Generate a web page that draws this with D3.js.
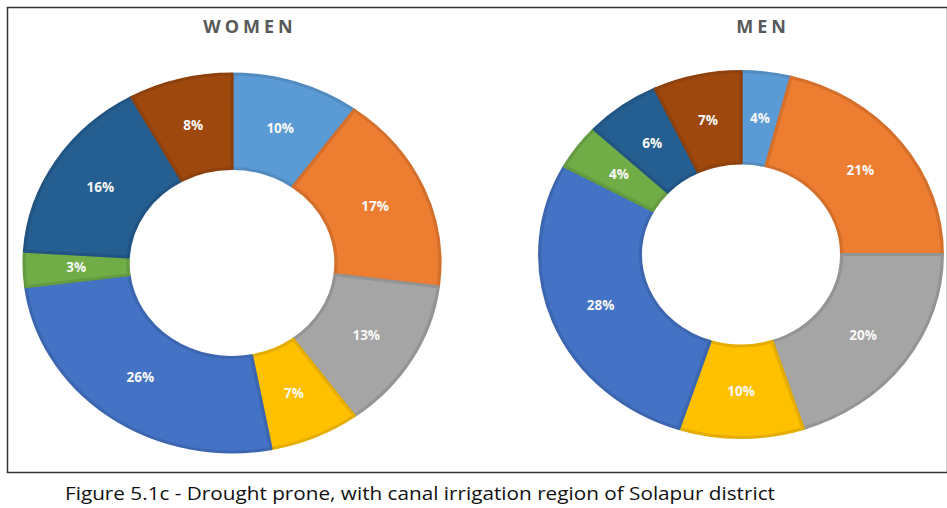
<!DOCTYPE html>
<html>
<head>
<meta charset="utf-8">
<script src="https://cdn.jsdelivr.net/npm/d3@7"></script>
<style>
  body { margin: 0; background: #fff; }
  svg { display: block; }
</style>
</head>
<body>
<div id="chart"></div>
<script>
(function () {
    "use strict";
    // slice order, clockwise from 12 o'clock
    var categories = ["c1", "c2", "c3", "c4", "c5", "c6", "c7", "c8"];
    var colors = ["#5B9BD5", "#ED7D31", "#A5A5A5", "#FFC000", "#4472C4", "#70AD47", "#255E91", "#9E480E"];
    var women = [10, 17, 13, 7, 26, 3, 16, 8];
    var men = [4, 21, 20, 10, 28, 4, 6, 7];
    var titles = ["WOMEN", "MEN"];
    var caption = "Figure 5.1c  - Drought prone, with canal irrigation region of Solapur district";

    var w = 947, h = 508;
    var svg = d3.select('#chart').append('svg').attr('width', w).attr('height', h);

    // frame
    svg.append('rect').attr('x', 7.5).attr('y', 7.5).attr('width', 940).attr('height', 465)
        .attr('fill', 'none').attr('stroke', '#333').attr('stroke-width', 1.5);

    var donuts = [
        {data: women, cx: 232, cy: 263, r: 189, sx: 1.1, title: titles[0], tx: 250},
        {data: men, cx: 741, cy: 254.5, r: 183, sx: 1.1, title: titles[1], tx: 763}
    ];

    var pie = d3.pie().sort(null).value(function (d) { return d; });

    donuts.forEach(function (dn) {
        var inner = dn.r * 0.5;
        var arc = d3.arc().innerRadius(inner).outerRadius(dn.r);
        var mid = d3.arc().innerRadius((inner + dn.r) / 2).outerRadius((inner + dn.r) / 2);
        var arcs = pie(dn.data);

        var g = svg.append('g')
            .attr('transform', 'translate(' + dn.cx + ',' + dn.cy + ') scale(' + dn.sx + ',1)');
        g.selectAll('path').data(arcs).enter().append('path')
            .attr('d', arc)
            .attr('fill', function (d, i) { return colors[i]; })
            .attr('stroke', function (d, i) { return d3.color(colors[i]).darker(0.3); })
            .attr('stroke-width', 3)
            .attr('stroke-linejoin', 'round');

        svg.selectAll(null).data(arcs).enter().append('text')
            .text(function (d) { return d.data + '%'; })
            .attr('x', function (d) { return dn.cx + mid.centroid(d)[0] * dn.sx; })
            .attr('y', function (d) { return dn.cy + mid.centroid(d)[1]; })
            .attr('dy', '0.35em')
            .attr('text-anchor', 'middle')
            .attr('font-family', 'Open Sans, Liberation Sans, sans-serif')
            .attr('font-size', 13.5)
            .attr('font-weight', 'bold')
            .attr('fill', '#f8f8f8');

        svg.append('text').text(dn.title)
            .attr('x', dn.tx).attr('y', 33)
            .attr('text-anchor', 'middle')
            .attr('font-family', 'Open Sans, Liberation Sans, sans-serif')
            .attr('font-size', 18)
            .attr('font-weight', 'bold')
            .attr('letter-spacing', 4)
            .attr('fill', '#595959');
    });

    svg.append('text').text(caption)
        .attr('x', 65).attr('y', 500)
        .attr('font-family', 'Open Sans, Liberation Sans, sans-serif')
        .attr('font-size', 18)
        .attr('textLength', 710)
        .attr('lengthAdjust', 'spacingAndGlyphs')
        .attr('fill', '#111');
}());
</script>
</body>
</html>
